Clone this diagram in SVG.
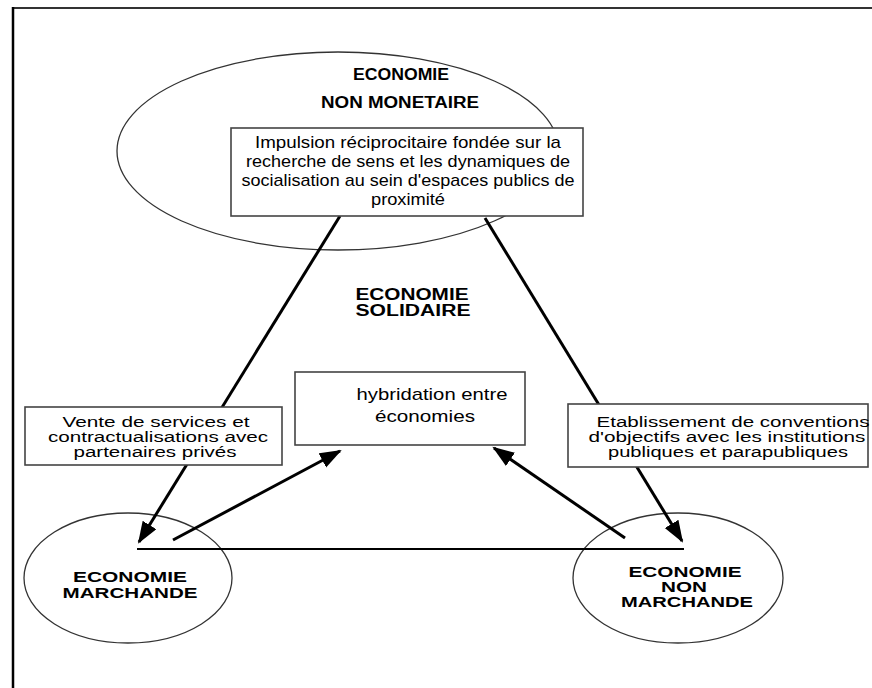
<svg xmlns="http://www.w3.org/2000/svg" width="872" height="688" viewBox="0 0 872 688">
<style>
.ell{fill:none;stroke:#333;stroke-width:1.3}
.box{fill:#fff;stroke:#444;stroke-width:1.6}
.t{font-family:"Liberation Sans",Arial,sans-serif;font-size:17px;fill:#000;text-anchor:middle}
.s{font-family:"Liberation Sans",Arial,sans-serif;font-size:14px;fill:#000;text-anchor:middle}
.b{font-family:"Liberation Sans",Arial,sans-serif;font-size:16px;font-weight:bold;fill:#000;text-anchor:middle}
.bs{font-family:"Liberation Sans",Arial,sans-serif;font-size:14px;font-weight:bold;fill:#000;text-anchor:middle}
.c{fill:none;stroke:#000;stroke-width:3}
</style>
<defs>
<marker id="ah" markerUnits="userSpaceOnUse" markerWidth="24" markerHeight="18" refX="20" refY="8" orient="auto">
<path d="M0,0 L22,8 L0,16 z" fill="#000"/>
</marker>
</defs>
<rect width="872" height="688" fill="#fff"/>
<g id="frame">
<line x1="12" y1="8" x2="872" y2="8" stroke="#333" stroke-width="2"/>
<line x1="13" y1="7" x2="13" y2="688" stroke="#000" stroke-width="2.5"/>
</g>
<g id="non-monetaire">
<ellipse class="ell" cx="338" cy="151" rx="221" ry="99"/>
<text class="b" x="401" y="80" textLength="96" lengthAdjust="spacingAndGlyphs">ECONOMIE</text>
<text class="b" x="400" y="108" textLength="158" lengthAdjust="spacingAndGlyphs">NON MONETAIRE</text>
</g>
<g id="marchande">
<ellipse class="ell" cx="128" cy="578" rx="104" ry="65"/>
<text class="bs" x="130" y="582" textLength="114" lengthAdjust="spacingAndGlyphs">ECONOMIE</text>
<text class="bs" x="130" y="598" textLength="135" lengthAdjust="spacingAndGlyphs">MARCHANDE</text>
</g>
<g id="non-marchande">
<ellipse class="ell" cx="678" cy="578" rx="105" ry="65"/>
<text class="bs" x="685" y="577" textLength="113" lengthAdjust="spacingAndGlyphs">ECONOMIE</text>
<text class="bs" x="684" y="592" textLength="46" lengthAdjust="spacingAndGlyphs">NON</text>
<text class="bs" x="687" y="607" textLength="132" lengthAdjust="spacingAndGlyphs">MARCHANDE</text>
</g>
<g id="solidaire">
<text class="b" x="412" y="300" textLength="113" lengthAdjust="spacingAndGlyphs">ECONOMIE</text>
<text class="b" x="413" y="316" textLength="115" lengthAdjust="spacingAndGlyphs">SOLIDAIRE</text>
</g>
<g id="connectors">
<line class="c" x1="340" y1="216" x2="139" y2="542" marker-end="url(#ah)"/>
<line class="c" x1="485" y1="218" x2="682" y2="541" marker-end="url(#ah)"/>
<line class="c" x1="173" y1="540" x2="340" y2="451" marker-end="url(#ah)"/>
<line class="c" x1="625" y1="538" x2="494" y2="448" marker-end="url(#ah)"/>
<line x1="137" y1="549" x2="684" y2="549" stroke="#000" stroke-width="2"/>
</g>
<g id="impulsion">
<rect class="box" x="231" y="128" width="352" height="88"/>
<text class="t" x="408" y="148" textLength="306" lengthAdjust="spacingAndGlyphs">Impulsion réciprocitaire fondée sur la</text>
<text class="t" x="408" y="167" textLength="324" lengthAdjust="spacingAndGlyphs">recherche de sens et les dynamiques de</text>
<text class="t" x="408" y="186" textLength="333" lengthAdjust="spacingAndGlyphs">socialisation au sein d'espaces publics de</text>
<text class="t" x="408" y="205" textLength="74" lengthAdjust="spacingAndGlyphs">proximité</text>
</g>
<g id="hybridation">
<rect class="box" x="295" y="372" width="230" height="73" stroke-width="2.2" stroke="#222"/>
<text class="t" x="432" y="400" textLength="151" lengthAdjust="spacingAndGlyphs">hybridation entre</text>
<text class="t" x="425" y="422" textLength="100" lengthAdjust="spacingAndGlyphs">économies</text>
</g>
<g id="vente">
<rect class="box" x="25" y="407" width="257" height="58"/>
<text class="s" x="156" y="427" textLength="187" lengthAdjust="spacingAndGlyphs">Vente de services et</text>
<text class="s" x="158" y="442" textLength="220" lengthAdjust="spacingAndGlyphs">contractualisations avec</text>
<text class="s" x="155" y="457" textLength="163" lengthAdjust="spacingAndGlyphs">partenaires privés</text>
</g>
<g id="etablissement">
<rect class="box" x="568" y="404" width="300" height="63"/>
<text class="s" x="733" y="427" textLength="273" lengthAdjust="spacingAndGlyphs">Etablissement de conventions</text>
<text class="s" x="727" y="442" textLength="277" lengthAdjust="spacingAndGlyphs">d'objectifs avec les institutions</text>
<text class="s" x="728" y="457" textLength="240" lengthAdjust="spacingAndGlyphs">publiques et parapubliques</text>
</g>
</svg>
